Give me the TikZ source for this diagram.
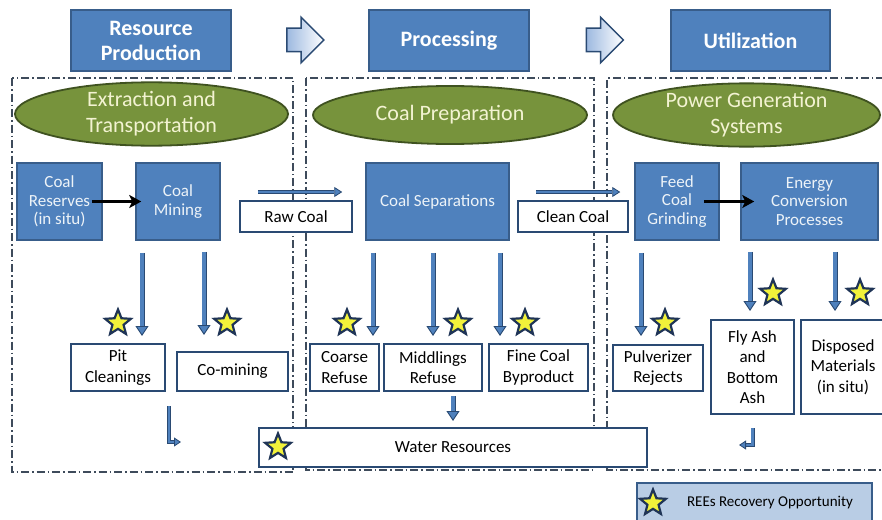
\documentclass[tikz,border=0pt]{standalone}
\usepackage{fontspec}
\setmainfont{Carlito}
\usetikzlibrary{shapes.geometric, shapes.arrows, arrows.meta}

\definecolor{boxblue}{HTML}{4F81BD}
\definecolor{boxedge}{HTML}{385D8A}
\definecolor{navy}{HTML}{2A4A73}
\definecolor{olive}{HTML}{77933C}
\definecolor{oliveedge}{HTML}{3F5220}
\definecolor{cream}{HTML}{F3F3D2}
\definecolor{legendblue}{HTML}{B9CDE5}
\definecolor{dashgray}{HTML}{3E4B5B}
\definecolor{staryellow}{HTML}{F2F23A}
\definecolor{starnavy}{HTML}{1F3456}
\definecolor{arrowblue}{HTML}{9DB9E0}

\tikzset{
	header/.style={rectangle, fill=boxblue, draw=boxedge, line width=1.5pt, text=white, font=\fontsize{22}{25}\selectfont\bfseries, align=center, inner sep=0pt, minimum width=160pt, minimum height=61pt},
	stage/.style={ellipse, fill=olive, draw=oliveedge, line width=1.8pt, text=cream, font=\fontsize{22}{26}\selectfont, align=center, inner sep=0pt, minimum height=58pt},
	bluebox/.style={rectangle, fill=boxblue, draw=boxedge, line width=1.5pt, text=white!90!boxblue, font=\fontsize{17}{18.5}\selectfont, align=center, inner sep=0pt, minimum height=77pt},
	whitebox/.style={rectangle, fill=white, draw=navy, line width=2pt, font=\fontsize{17}{20.5}\selectfont, align=center, inner sep=0pt},
	ree/.style={star, star points=5, star point ratio=2.3, fill=staryellow, draw=starnavy, line width=2.2pt, minimum size=27pt, inner sep=0pt},
	region/.style={draw=dashgray, line width=1.4pt, dash pattern=on 8pt off 3pt on 1.5pt off 3pt},
	blockarr/.style={single arrow, draw=navy, line width=1.5pt, left color=arrowblue, right color=white, minimum height=37pt, inner xsep=0pt, inner ysep=11pt, single arrow head extend=11pt},
	downarr/.style={draw=navy, line width=0.9pt, double=boxblue, double distance=3.2pt, arrows={-Triangle[length=10pt, width=13pt, fill=boxblue]}},
	flowarr/.style={draw=navy, line width=0.8pt, double=boxblue, double distance=2.6pt, arrows={-Triangle[length=8pt, width=10pt, fill=boxblue]}},
	bendarr/.style={draw=navy, line width=0.8pt, double=boxblue, double distance=2.4pt, arrows={-Triangle[length=7pt, width=9pt, fill=boxblue]}},
	pusharr/.style={draw=black, line width=2.6pt, arrows={-Stealth[length=12pt, width=13pt, inset=3pt]}}
}

\begin{document}
\begin{tikzpicture}[x=1pt, y=-1pt]
	\useasboundingbox (0,0) rectangle (882,519);
	\fill [white] (0,0) rectangle (882,519);

	% stages of the chain
	\node [header] (resprod) at (151,40.5) {Resource\\Production};
	\node [header] (proc) at (449,40.5) {Processing};
	\node [header, minimum width=159pt] (util) at (750.5,40.5) {Utilization};
	\node [blockarr] (hdrar1) at (299.5,40) {};
	\node [blockarr] (hdrar2) at (599,40) {};

	% dash-dot frames
	\draw [region] (12,78) rectangle (293,472);
	\draw [region] (306,78) rectangle (594,470);
	\draw [region] (884,78) -- (607,78) -- (607,470) -- (884,470);

	\node [stage, minimum width=273pt] (extr) at (151.5,114) {Extraction and\\Transportation};
	\node [stage, minimum width=274pt] (prep) at (450,115) {Coal Preparation};
	\node [stage, minimum width=267pt] (power) at (746.5,115) {Power Generation\\Systems};

	% main steps
	\node [bluebox, minimum width=85pt] (res) at (59.5,201.5) {Coal\\Reserves\\(in situ)};
	\node [bluebox, minimum width=84pt] (min) at (178,201.5) {Coal\\Mining};
	\node [bluebox, minimum width=143pt] (sep) at (437.5,201.5) {Coal Separations};
	\node [bluebox, minimum width=84pt] (feed) at (677,201.5) {Feed\\Coal\\Grinding};
	\node [bluebox, minimum width=137pt] (ener) at (809.5,201.5) {Energy\\Conversion\\Processes};

	\draw [pusharr, shorten <=-11pt, shorten >=-6pt] (res.east) -- (min.west);
	\draw [pusharr, shorten <=-16pt, shorten >=-14pt] (feed.east) -- (ener.west);

	\draw [flowarr, shorten <=37pt, shorten >=23pt] ([yshift=9.5pt]min.east) -- ([yshift=9.5pt]sep.west);
	\draw [flowarr, shorten <=26pt, shorten >=14pt] ([yshift=9.5pt]sep.east) -- ([yshift=9.5pt]feed.west);
	\node [whitebox, minimum width=112pt, minimum height=31pt] (rawc) at (296,216.5) {Raw Coal};
	\node [whitebox, minimum width=110pt, minimum height=31pt] (cleanc) at (573,216.5) {Clean Coal};

	% by-products
	\node [whitebox, minimum width=94pt, minimum height=47pt] (pit) at (118,367.5) {Pit\\Cleanings};
	\node [whitebox, minimum width=111pt, minimum height=39pt] (comin) at (232.5,371.5) {Co-mining};
	\node [whitebox, minimum width=69pt, minimum height=47pt] (coarse) at (344.5,367.5) {Coarse\\Refuse};
	\node [whitebox, minimum width=98pt, minimum height=47pt] (mid) at (433,367.5) {Middlings\\Refuse};
	\node [whitebox, minimum width=99pt, minimum height=47pt] (fine) at (538.5,367.5) {Fine Coal\\Byproduct};
	\node [whitebox, minimum width=90pt, minimum height=46pt] (pulv) at (658,368) {Pulverizer\\Rejects};
	\node [whitebox, minimum width=83pt, minimum height=94pt] (fly) at (752.5,367) {Fly Ash\\and\\Bottom\\Ash};
	\node [whitebox, minimum width=84pt, minimum height=94pt] (disp) at (843,367) {Disposed\\Materials\\(in situ)};
	\node [whitebox, minimum width=388pt, minimum height=39pt] (water) at (453,447.5) {Water Resources};

	\draw [downarr, shorten <=12pt, shorten >=7pt] ([xshift=-36pt]min.south) -- ([xshift=-36pt]min.south |- pit.north);
	\draw [downarr, shorten <=11pt, shorten >=16pt] ([xshift=26pt]min.south) -- ([xshift=26pt]min.south |- comin.north);
	\draw [downarr, shorten <=12pt, shorten >=7pt] ([xshift=-64.5pt]sep.south) -- ([xshift=-64.5pt]sep.south |- coarse.north);
	\draw [downarr, shorten <=12pt, shorten >=7pt] ([xshift=-4.5pt]sep.south) -- ([xshift=-4.5pt]sep.south |- mid.north);
	\draw [downarr, shorten <=12pt, shorten >=7pt] ([xshift=62.5pt]sep.south) -- ([xshift=62.5pt]sep.south |- fine.north);
	\draw [downarr, shorten <=12pt, shorten >=8pt] ([xshift=-36pt]feed.south) -- ([xshift=-36pt]feed.south |- pulv.north);
	\draw [downarr, shorten <=11pt, shorten >=8pt] ([xshift=-59.5pt]ener.south) -- ([xshift=-59.5pt]ener.south |- fly.north);
	\draw [downarr, shorten <=11pt, shorten >=8pt] ([xshift=25.5pt]ener.south) -- ([xshift=25.5pt]ener.south |- disp.north);
	\draw [downarr, shorten <=4pt, shorten >=6pt] ([xshift=20pt]mid.south) -- ([xshift=20pt]mid.south |- water.north);

	\coordinate (pitdrain) at (181,442);
	\coordinate (flydrain) at (739,445);
	\draw [bendarr] ([xshift=3pt, yshift=-14pt]pit.south east) |- (pitdrain);
	\draw [bendarr] ([yshift=-13pt]fly.south) |- (flydrain);

	% recovery opportunities
	\node [ree] (pitstar) at (118,323) {};
	\node [ree] (cominstar) at (227,323) {};
	\node [ree] (coarsestar) at (347,323) {};
	\node [ree] (midstar) at (458,323) {};
	\node [ree] (finestar) at (525,323) {};
	\node [ree] (pulvstar) at (665,323) {};
	\node [ree] (flystar) at (773,293) {};
	\node [ree] (dispstar) at (860,293) {};
	\node [ree] (waterstar) at (278,447) {};

	% legend
	\node [rectangle, fill=legendblue, draw=boxedge, line width=2pt, minimum width=235pt, minimum height=42pt] (legend) at (754.5,504) {};
	\node [ree] (legstar) at (653,503) {};
	\node [font=\fontsize{15}{18}\selectfont] (legtext) at (770,503) {REEs Recovery Opportunity};
\end{tikzpicture}
\end{document}
